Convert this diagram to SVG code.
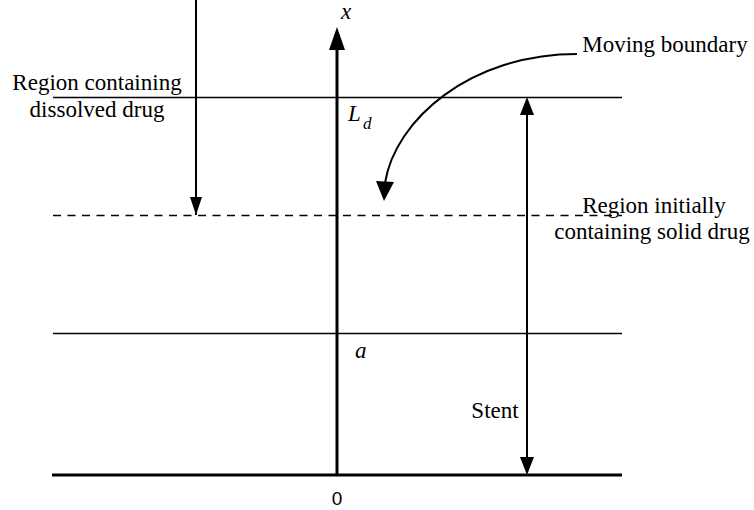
<svg xmlns="http://www.w3.org/2000/svg" width="754" height="510" viewBox="0 0 754 510">
<style>
.thin{stroke:#000;stroke-width:1.3;fill:none}
.thick{stroke:#000;stroke-width:3;fill:none}
</style>
<defs>
<marker id="ah" viewBox="0 0 18 12" refX="18" refY="6" markerWidth="18" markerHeight="12" markerUnits="userSpaceOnUse" orient="auto">
<path d="M0,0 L18,6 L0,12 Z" fill="#000"/>
</marker>
</defs>
<rect width="754" height="510" fill="#fff"/>
<g id="levels">
<line class="thin" x1="53" y1="97.5" x2="622" y2="97.5"/>
<line class="thin" x1="53" y1="215.5" x2="622" y2="215.5" stroke-dasharray="8 6.5"/>
<line class="thin" x1="53" y1="333.5" x2="622" y2="333.5"/>
<line class="thick" x1="52" y1="475" x2="622" y2="475"/>
</g>
<g id="axis" font-family="Liberation Serif, Times New Roman, serif" font-size="23" fill="#000">
<line class="thick" x1="337" y1="475" x2="337" y2="45"/>
<path d="M329,50 L345,50 L337,27 Z" fill="#000"/>
<text font-style="italic" x="346" y="19" text-anchor="middle">x</text>
<text font-style="italic" x="348" y="121">L</text>
<text font-style="italic" x="363" y="129" font-size="17">d</text>
<text font-style="italic" x="355" y="358">a</text>
<text x="337" y="505" text-anchor="middle" font-family="Liberation Sans, Arial, sans-serif" font-size="19">0</text>
</g>
<g id="connectors">
<line x1="196" y1="0" x2="196" y2="215" stroke="#000" stroke-width="2" marker-end="url(#ah)"/>
<path d="M577,54 C470,54 395,120 385,183" stroke="#000" stroke-width="2" fill="none"/>
<path d="M376,181 L394,182 L384,201 Z" fill="#000"/>
<line x1="527" y1="115" x2="527" y2="457" stroke="#000" stroke-width="2"/>
<path d="M520,115 L534,115 L527,97 Z" fill="#000"/>
<path d="M520,457 L534,457 L527,475 Z" fill="#000"/>
</g>
<g id="labels" font-family="Liberation Serif, Times New Roman, serif" font-size="23" fill="#000" text-anchor="middle">
<g id="label-dissolved">
<text x="97" y="90">Region containing</text>
<text x="97" y="117">dissolved drug</text>
</g>
<g id="label-moving">
<text x="665" y="52">Moving boundary</text>
</g>
<g id="label-solid">
<text x="654" y="213">Region initially</text>
<text x="652" y="239">containing solid drug</text>
</g>
<g id="label-stent">
<text x="495" y="418">Stent</text>
</g>
</g>
</svg>
